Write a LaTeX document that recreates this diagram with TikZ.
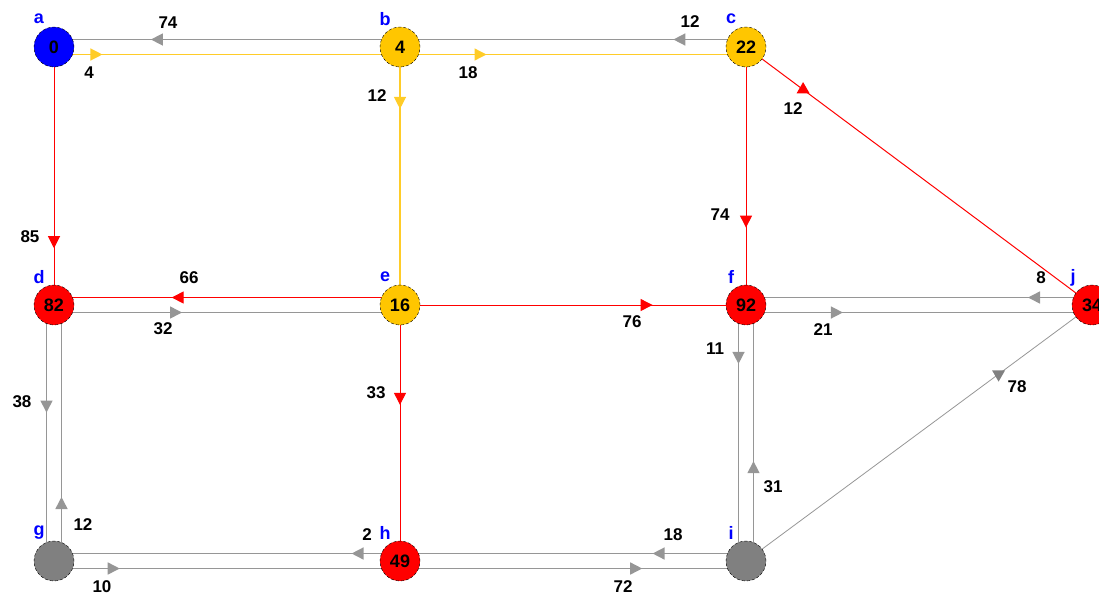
\documentclass[tikz,border=0pt]{standalone}
\usepackage{fontspec}
\setmainfont{Liberation Sans}
\usetikzlibrary{arrows.meta,positioning,shapes.geometric,calc,backgrounds,decorations.markings}
\definecolor{nodegold}{RGB}{255,198,0}
\definecolor{linegold}{RGB}{255,204,40}
\definecolor{nodegray}{RGB}{128,128,128}
\definecolor{linegray}{RGB}{150,150,150}

\begin{document}
\begin{tikzpicture}[x=1pt, y=-1pt,
    vertex/.style={circle, draw=black, densely dashed, thin, minimum size=40pt, inner sep=0pt, font=\fontsize{18}{18}\selectfont\bfseries},
    letter/.style={text=blue, inner sep=0pt, font=\fontsize{18}{18}\selectfont\bfseries},
    wt/.style={inner sep=0pt, font=\fontsize{17}{17}\selectfont\bfseries},
    tri/.style={regular polygon, regular polygon sides=3, inner sep=0pt, minimum size=15pt},
    tip at/.style={postaction={decorate, decoration={markings, mark=at position #1 with {\arrow{Triangle[length=12pt,width=12pt]}}}}},
    grayline/.style={color=linegray, line width=1.5pt},
    goldline/.style={color=linegold, line width=1.3pt},
    redline/.style={color=red, line width=1pt},
    thingray/.style={color=linegray, line width=0.8pt}
]
\useasboundingbox (0,0) rectangle (1099,595);

% Vertices
\node[vertex, fill=blue] (a) at (54,47) {0};
\node[vertex, fill=nodegold] (b) at (400,47) {4};
\node[vertex, fill=nodegold] (c) at (746,47) {22};
\node[vertex, fill=red] (d) at (54,305) {82};
\node[vertex, fill=nodegold] (e) at (400,305) {16};
\node[vertex, fill=red] (f) at (746,305) {92};
\node[vertex, fill=red] (j) at (1092,305) {34};
\node[vertex, fill=nodegray] (g) at (54,561) {};
\node[vertex, fill=red] (h) at (400,561) {49};
\node[vertex, fill=nodegray] (i) at (746,561) {};

% Vertex letters
\foreach \n in {a,b,c,d,e,f,g,h,i}
    \node[letter] (l\n) at ([shift={(-15pt,28pt)}]\n.center) {\n};
\node[letter] (lj) at ([shift={(-19pt,27pt)}]j.center) {j};

% Edges
\begin{scope}[on background layer]
\draw[grayline, tip at=0.72] ([yshift=7.5pt]b.center) -- ([yshift=7.5pt]a.center);
\draw[goldline, tip at=0.14] ([yshift=-7.5pt]a.center) -- ([yshift=-7.5pt]b.center);
\draw[grayline, tip at=0.21] ([yshift=7.5pt]c.center) -- ([yshift=7.5pt]b.center);
\draw[goldline, tip at=0.25] ([yshift=-7.5pt]b.center) -- ([yshift=-7.5pt]c.center);
\draw[goldline, tip at=0.24] (b.center) -- (e.center);
\draw[redline, tip at=0.78] (a.center) -- (d.center);
\draw[redline, tip at=0.70] (c.center) -- (f.center);
\draw[redline, postaction={decorate, decoration={markings, mark=at position 0.165 with {\node[tri, fill=red] (mcj) {};}}}] (c.center) -- (j.center);
\draw[redline, tip at=0.66] ([yshift=7.5pt]e.center) -- ([yshift=7.5pt]d.center);
\draw[grayline, tip at=0.37] ([yshift=-7.5pt]d.center) -- ([yshift=-7.5pt]e.center);
\draw[redline, tip at=0.73] (e.center) -- (f.center);
\draw[redline, tip at=0.39] (e.center) -- (h.center);
\draw[grayline, tip at=0.185] ([yshift=7.5pt]j.center) -- ([yshift=7.5pt]f.center);
\draw[grayline, tip at=0.28] ([yshift=-7.5pt]f.center) -- ([yshift=-7.5pt]j.center);
\draw[grayline, tip at=0.23] ([xshift=-7.5pt]f.center) -- ([xshift=-7.5pt]i.center);
\draw[grayline, tip at=0.39] ([xshift=7.5pt]i.center) -- ([xshift=7.5pt]f.center);
\draw[thingray, postaction={decorate, decoration={markings, mark=at position 0.73 with {\node[tri, fill=nodegray, shape border rotate=180] (mij) {};}}}] (i.center) -- (j.center);
\draw[grayline, tip at=0.42] ([xshift=-7.5pt]d.center) -- ([xshift=-7.5pt]g.center);
\draw[grayline, tip at=0.25] ([xshift=7.5pt]g.center) -- ([xshift=7.5pt]d.center);
\draw[grayline, tip at=0.14] ([yshift=7.5pt]h.center) -- ([yshift=7.5pt]g.center);
\draw[grayline, tip at=0.19] ([yshift=-7.5pt]g.center) -- ([yshift=-7.5pt]h.center);
\draw[grayline, tip at=0.27] ([yshift=7.5pt]i.center) -- ([yshift=7.5pt]h.center);
\draw[grayline, tip at=0.70] ([yshift=-7.5pt]h.center) -- ([yshift=-7.5pt]i.center);
\end{scope}

% Weights
\node[wt] (w-ba) at (168,23) {74};
\node[wt] (w-ab) at (89,73) {4};
\node[wt] (w-cb) at (690,22) {12};
\node[wt] (w-bc) at (468,73) {18};
\node[wt] (w-be) at (377,96) {12};
\node[wt] (w-ad) at (30,237) {85};
\node[wt] (w-cf) at (720,215) {74};
\node[wt] (w-cj) at (793,109) {12};
\node[wt] (w-ed) at (189,278) {66};
\node[wt] (w-de) at (163,329) {32};
\node[wt] (w-ef) at (632,322) {76};
\node[wt] (w-eh) at (376,393) {33};
\node[wt] (w-jf) at (1041,278) {8};
\node[wt] (w-fj) at (823,330) {21};
\node[wt] (w-fi) at (715,349) {11};
\node[wt] (w-if) at (773,487) {31};
\node[wt] (w-ij) at (1017,387) {78};
\node[wt] (w-dg) at (22,402) {38};
\node[wt] (w-gd) at (83,525) {12};
\node[wt] (w-hg) at (367,535) {2};
\node[wt] (w-gh) at (102,587) {10};
\node[wt] (w-ih) at (673,535) {18};
\node[wt] (w-hi) at (623,587) {72};

\end{tikzpicture}
\end{document}
